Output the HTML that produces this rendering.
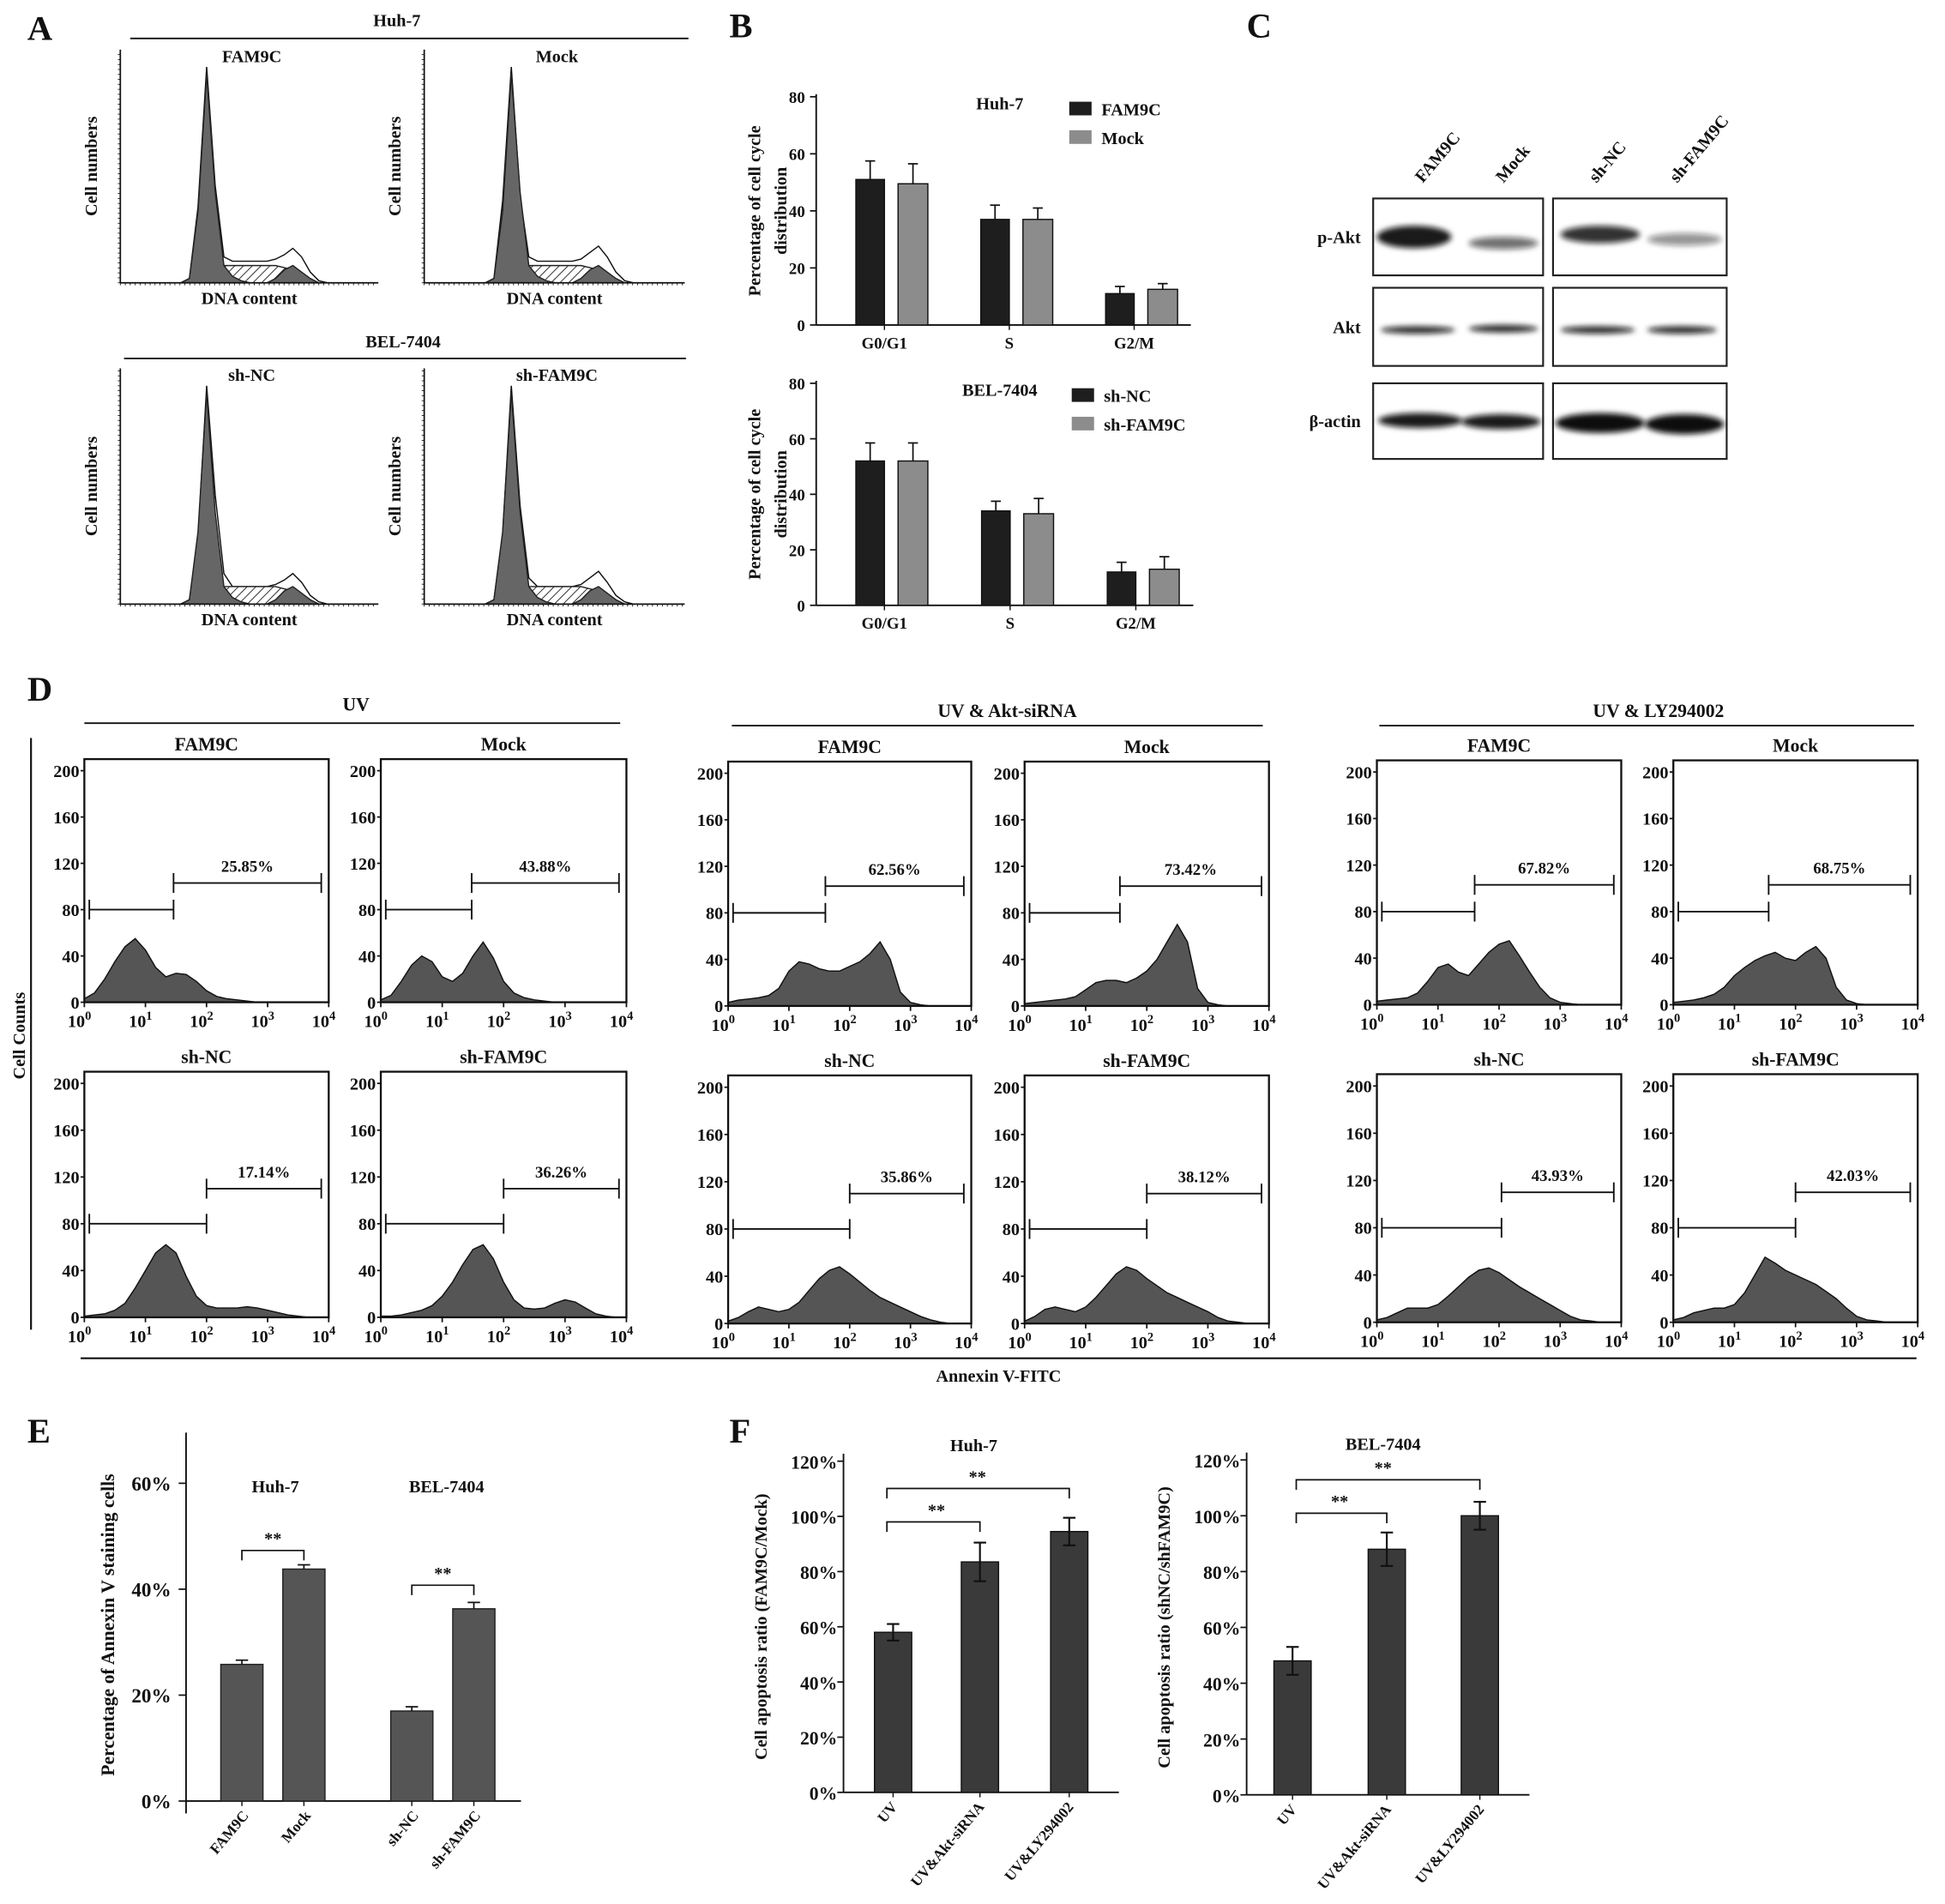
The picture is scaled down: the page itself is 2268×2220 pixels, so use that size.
<!DOCTYPE html>
<html><head><meta charset="utf-8"><style>
html,body{margin:0;padding:0;background:#fff}
svg{display:block}
text{font-family:"Liberation Serif",serif;font-weight:bold;fill:#111}
</style></head><body>
<svg id="fig" xmlns="http://www.w3.org/2000/svg" width="2268" height="2220" viewBox="0 0 1568 1535" preserveAspectRatio="none">
<defs>
<pattern id="hatch" width="5" height="5" patternUnits="userSpaceOnUse" patternTransform="rotate(45)"><rect width="5" height="5" fill="#fff"/><line x1="0" y1="0" x2="0" y2="5" stroke="#333" stroke-width="1.4"/></pattern>
<filter id="blur" x="-20%" y="-100%" width="140%" height="300%"><feGaussianBlur stdDeviation="2.2"/></filter>
</defs>
</svg>
<script>
// ---------- data ----------
// Panel A cell-cycle histograms (relative counts, 30 bins)
const aOutline1=[0,0,0,0,0,0,0,0,0.02,0.35,1.0,0.45,0.12,0.1,0.1,0.1,0.1,0.1,0.11,0.13,0.16,0.12,0.05,0.01,0,0,0,0,0,0];
const aOutline2=[0,0,0,0,0,0,0,0,0.02,0.38,1.0,0.4,0.12,0.1,0.1,0.1,0.1,0.1,0.11,0.14,0.17,0.12,0.05,0.01,0,0,0,0,0,0];
const aOutline3=[0,0,0,0,0,0,0,0,0.02,0.3,1.0,0.5,0.14,0.08,0.08,0.08,0.08,0.08,0.09,0.11,0.14,0.1,0.04,0.01,0,0,0,0,0,0];
const aOutline4=[0,0,0,0,0,0,0,0,0.02,0.32,1.0,0.45,0.12,0.08,0.08,0.08,0.08,0.08,0.09,0.12,0.15,0.1,0.04,0.01,0,0,0,0,0,0];
const aG1=[0,0,0,0,0,0,0,0,0.02,0.33,0.97,0.42,0.08,0.03,0.01,0,0,0,0,0,0,0,0,0,0,0,0,0,0,0];
const aG2=[0,0,0,0,0,0,0,0,0,0,0,0,0,0,0,0,0,0,0.02,0.06,0.08,0.05,0.02,0,0,0,0,0,0,0];
const aS=[0,0,0,0,0,0,0,0,0,0,0.07,0.08,0.08,0.08,0.08,0.08,0.08,0.08,0.08,0.07,0.06,0.03,0.01,0,0,0,0,0,0,0];
// Panel B
const bCats=['G0/G1','S','G2/M'];
const bHuhFam=[51,37,11], bHuhFamErr=[6.5,5,2.5];
const bHuhMock=[49.5,37,12.5], bHuhMockErr=[7,4,2];
const bBelNC=[52,34,12], bBelNCErr=[6.5,3.5,3.5];
const bBelSh=[52,33,13], bBelShErr=[6.5,5.5,4.5];
const bTicks=[0,20,40,60,80];
// Panel D flow histograms (counts at log10 = i/6)
const d1=[3,8,20,35,48,55,45,30,22,25,24,18,10,5,3,2,1,0,0,0,0,0,0,0,0];
const d2=[2,6,18,32,40,35,22,18,25,40,52,38,18,8,4,2,1,0,0,0,0,0,0,0,0];
const d3=[3,5,6,7,9,15,30,38,36,32,30,30,34,38,45,55,40,12,3,1,0,0,0,0,0];
const d4=[2,3,4,5,6,8,14,20,22,22,20,24,30,40,55,70,55,15,3,1,0,0,0,0,0];
const d5=[3,4,5,6,10,20,32,35,28,25,35,45,52,55,42,28,15,6,2,1,0,0,0,0,0];
const d6=[2,3,4,6,9,15,25,32,38,42,45,40,38,45,50,40,15,4,1,0,0,0,0,0,0];
const d7=[1,2,3,6,12,25,40,55,62,55,35,18,10,8,8,8,9,8,6,4,2,1,0,0,0];
const d8=[1,1,2,4,6,10,18,30,45,58,62,50,30,15,8,7,8,12,15,13,8,3,1,0,0];
const d9=[2,5,10,14,12,10,12,18,28,38,45,48,42,35,28,22,18,14,10,6,3,1,0,0,0];
const d10=[2,6,12,14,12,10,14,22,32,42,48,45,38,32,26,22,18,14,10,5,2,1,0,0,0];
const d11=[2,4,8,12,12,12,15,22,30,38,44,46,42,36,30,25,20,15,10,5,2,1,0,0,0];
const d12=[2,4,8,10,12,12,15,25,40,55,50,44,40,36,32,26,20,12,5,2,1,0,0,0,0];
const dPct=['25.85%','43.88%','62.56%','73.42%','67.82%','68.75%','17.14%','36.26%','35.86%','38.12%','43.93%','42.03%'];
const dGate=[1.46,1.48,1.6,1.56,1.6,1.56,2,2,2,2,2.04,2];
const dYTicks=[0,40,80,120,160,200];
// Panel E
const eCats=['FAM9C','Mock','sh-NC','sh-FAM9C'];
const eVals=[25.8,43.8,17,36.3], eErr=[0.8,0.8,0.8,1.2];
const eTicks=[0,20,40,60];
// Panel F
const fCats=['UV','UV&Akt-siRNA','UV&LY294002'];
const fHuh=[58,83.5,94.5], fHuhErr=[3,7,5];
const fBel=[48,88,100], fBelErr=[5,6,5];
const fTicks=[0,20,40,60,80,100,120];

// ---------- helpers ----------
const NS='http://www.w3.org/2000/svg';
const svg=document.getElementById('fig');
function mk(tag,attrs,parent){const e=document.createElementNS(NS,tag);for(const k in attrs)e.setAttribute(k,attrs[k]);(parent||svg).appendChild(e);return e;}
function txt(x,y,s,size,opts,parent){const t=mk('text',Object.assign({x:x,y:y,'font-size':size,'text-anchor':'middle'},opts||{}),parent);t.textContent=s;return t;}
function line(x1,y1,x2,y2,w,parent){return mk('line',{x1:x1,y1:y1,x2:x2,y2:y2,stroke:'#111','stroke-width':w||1.2},parent);}
let t,l,g,p,r;

// ---------- panel letters ----------
[['A',22,32],['B',588,30],['C',1005,30],['D',22,565],['E',22,1163],['F',588,1163]].forEach(function(a){
  t=txt(a[1],a[2],a[0],28,{'text-anchor':'start'});
  
  
});

// ---------- Panel A ----------
function cycleHist(x0,y0,x1,y1,outline,title,name){
  g=mk('g',{});
  
  
  const H=y1-y0-14, W=(x1-x0)*0.97;
  const X=function(i){return x0+i/29*W;}, Y=function(v){return y1-v*H;};
  function poly(arr,fill,stroke){let d='M'+X(0)+','+y1;arr.forEach(function(v,i){d+=' L'+X(i).toFixed(1)+','+Y(v).toFixed(1);});d+=' L'+X(29)+','+y1+' Z';return mk('path',{d:d,fill:fill,stroke:stroke,'stroke-width':1},g);}
  p=poly(outline,'#fff','#111');
  
  p=poly(aS,'url(#hatch)','#222');
  
  p=poly(aG1,'#666','#222');
  
  p=poly(aG2,'#666','#222');
  
  line(x0,y0,x0,y1,1.2,g);line(x0,y1,x1,y1,1.2,g);
  for(let yy=y1;yy>y0;yy-=4){line(x0-2,yy,x0,yy,0.6,g);}
  for(let xx=x0;xx<x1;xx+=4){line(xx,y1,xx,y1+2,0.6,g);}
  t=txt((x0+x1)/2+2,y0+10,title,14,{},g);
  
  t=txt((x0+x1)/2,y1+17,'DNA content',14,{},g);
  
  t=txt(0,0,'Cell numbers',14,{transform:'translate('+(x0-19)+','+((y0+y1)/2)+') rotate(-90)'},g);
  
}
t=txt(320,21,'Huh-7',14);

l=line(105,31,555,31,1.3);

t=txt(325,280,'BEL-7404',14);

l=line(100,289,553,289,1.3);

cycleHist(97,40,305,228,aOutline1,'FAM9C','huh7-fam9c-histogram');
cycleHist(342,40,552,228,aOutline2,'Mock','huh7-mock-histogram');
cycleHist(97,297,305,487,aOutline3,'sh-NC','bel-shnc-histogram');
cycleHist(342,297,552,487,aOutline4,'sh-FAM9C','bel-shfam9c-histogram');

// ---------- Panel B ----------
function cycleBars(x0,x1,yT,yB,s1,e1,s2,e2,title,names,name){
  g=mk('g',{});
  
  
  const Y=function(v){return yB-(v/80)*(yB-yT);};
  line(x0,yT-2,x0,yB,1.3,g);line(x0,yB,x1,yB,1.3,g);
  bTicks.forEach(function(v){line(x0-5,Y(v),x0,Y(v),1.2,g);t=txt(x0-9,Y(v)+5,String(v),13,{'text-anchor':'end'},g);});
  const step=(x1-x0)/3;
  bCats.forEach(function(c,i){
    const cc=x0+55+i*step;
    r=mk('rect',{x:cc-23,y:Y(s1[i]),width:23,height:yB-Y(s1[i]),fill:'#1e1e1e',stroke:'#111'},g);
    
    r=mk('rect',{x:cc+11,y:Y(s2[i]),width:24,height:yB-Y(s2[i]),fill:'#8c8c8c',stroke:'#111'},g);
    
    [[cc-11.5,s1[i],e1[i]],[cc+23,s2[i],e2[i]]].forEach(function(q){line(q[0],Y(q[1]),q[0],Y(q[1]+q[2]),1.2,g);line(q[0]-4,Y(q[1]+q[2]),q[0]+4,Y(q[1]+q[2]),1.2,g);});
    line(cc,yB,cc,yB+4,1,g);
    t=txt(cc,yB+19,c,13,{},g);
    
  });
  t=txt(x0+148,yT+10,title,14,{},g);
  
  r=mk('rect',{x:x1-98,y:yT+4,width:18,height:11,fill:'#1e1e1e'},g);
  
  t=txt(x1-72,yT+15,names[0],14,{'text-anchor':'start'},g);
  
  r=mk('rect',{x:x1-98,y:yT+27,width:18,height:11,fill:'#8c8c8c'},g);
  
  t=txt(x1-72,yT+38,names[1],14,{'text-anchor':'start'},g);
  
  t=txt(0,0,'Percentage of cell cycle',14,{transform:'translate('+(x0-45)+','+((yT+yB)/2)+') rotate(-90)'},g);
  
  t=txt(0,0,'distribution',14,{transform:'translate('+(x0-24)+','+((yT+yB)/2)+') rotate(-90)'},g);
  
}
cycleBars(658,960,78,262,bHuhFam,bHuhFamErr,bHuhMock,bHuhMockErr,'Huh-7',['FAM9C','Mock'],'huh7-cell-cycle-chart');
cycleBars(658,962,309,488,bBelNC,bBelNCErr,bBelSh,bBelShErr,'BEL-7404',['sh-NC','sh-FAM9C'],'bel7404-cell-cycle-chart');

// ---------- Panel C ----------
g=mk('g',{});


[['FAM9C',1165],['Mock',1230],['sh-NC',1305],['sh-FAM9C',1370]].forEach(function(a){
  t=txt(0,0,a[0],14,{'text-anchor':'start',transform:'translate('+(a[1]-18)+',148) rotate(-50)'},g);
  
});
const rows=[['p-Akt',160,222],['Akt',232,295],['β-actin',309,370]];
rows.forEach(function(rw){
  t=txt(1097,(rw[1]+rw[2])/2+5,rw[0],14,{'text-anchor':'end'},g);
  
  [[1107,1244],[1252,1392]].forEach(function(b){
    r=mk('rect',{x:b[0],y:rw[1],width:b[1]-b[0],height:rw[2]-rw[1],fill:'#fff',stroke:'#222','stroke-width':1.5},g);
    
  });
});
function band(cx,cy,rx,ry,op){p=mk('ellipse',{cx:cx,cy:cy,rx:rx,ry:ry,fill:'#111','fill-opacity':op,filter:'url(#blur)'},g);}
band(1140,191,30,9,0.95);band(1212,196,28,5,0.6);band(1290,189,32,7,0.85);band(1358,193,30,5,0.45);
band(1143,266,30,3,0.9);band(1212,265,28,3,0.9);band(1288,266,30,3,0.9);band(1356,266,28,3,0.9);
band(1145,339,34,6,0.95);band(1210,340,32,6,0.95);band(1290,341,36,8,1);band(1358,342,32,8,1);

// ---------- Panel D ----------
function flow(bx0,bx1,yTop,yBase,data,pct,gate,gateY,title,name){
  g=mk('g',{});
  
  
  const ky=(yBase-yTop)/210;
  const Y=function(v){return yBase-v*ky;}, X=function(lg){return bx0+lg/4*(bx1-bx0);};
  let d='M'+X(0)+','+yBase;
  data.forEach(function(v,i){d+=' L'+X(i/6).toFixed(1)+','+Y(v).toFixed(1);});
  d+=' L'+X(4)+','+yBase+' Z';
  p=mk('path',{d:d,fill:'#555',stroke:'#111','stroke-width':1},g);
  
  r=mk('rect',{x:bx0,y:yTop,width:bx1-bx0,height:yBase-yTop,fill:'none',stroke:'#111','stroke-width':1.6},g);
  
  dYTicks.forEach(function(v){line(bx0-3,Y(v),bx0,Y(v),1.2,g);t=txt(bx0-4,Y(v)+5,String(v),14,{'text-anchor':'end'},g);});
  [0,1,2,3,4].forEach(function(e){
    line(X(e),yBase,X(e),yBase+4,1.2,g);
    t=mk('text',{x:X(e)-4,y:yBase+20,'font-size':14,'text-anchor':'middle'},g);
    
    t.textContent='10';
    const s=mk('tspan',{dy:-6,'font-size':10},t);s.textContent=String(e);
  });
  const gx=X(gate), lx=bx0+4, rx=bx1-6, ly=Y(80), ry=Y(gateY);
  line(lx,ly,gx,ly,1.3,g);line(lx,ly-8,lx,ly+8,1.3,g);line(gx,ly-8,gx,ly+8,1.3,g);
  line(gx,ry,rx,ry,1.3,g);line(gx,ry-8,gx,ry+8,1.3,g);line(rx,ry-8,rx,ry+8,1.3,g);
  t=txt((gx+rx)/2,ry-9,pct,13,{},g);
  
  t=txt((bx0+bx1)/2,yTop-7,title,15,{},g);
  
}
const groups=[[68,265,307,505,612,808,864,1062],[587,783,826,1023,614,811,867,1067],[1110,1307,1349,1546,613,810,866,1066]];
const dAll=[d1,d2,d3,d4,d5,d6,d7,d8,d9,d10,d11,d12];
groups.forEach(function(gr,k){
  flow(gr[0],gr[1],gr[4],gr[5],dAll[2*k],dPct[2*k],dGate[2*k],103,'FAM9C','flow-fam9c-'+k);
  flow(gr[2],gr[3],gr[4],gr[5],dAll[2*k+1],dPct[2*k+1],dGate[2*k+1],103,'Mock','flow-mock-'+k);
  flow(gr[0],gr[1],gr[6],gr[7],dAll[6+2*k],dPct[6+2*k],dGate[6+2*k],110,'sh-NC','flow-shnc-'+k);
  flow(gr[2],gr[3],gr[6],gr[7],dAll[7+2*k],dPct[7+2*k],dGate[7+2*k],110,'sh-FAM9C','flow-shfam9c-'+k);
});
[['UV',287,573,68,500,583],['UV  & Akt-siRNA',812,578,590,1018,585],['UV  & LY294002',1337,578,1112,1543,585]].forEach(function(a){
  t=txt(a[1],a[2],a[0],15,{'xml:space':'preserve'});
  
  l=line(a[3],a[5],a[4],a[5],1.3);
  
});
l=line(25,595,25,1072,1.5);

t=txt(0,0,'Cell Counts',14,{transform:'translate(20,835) rotate(-90)'});

l=line(65,1095,1545,1095,1.5);

t=txt(805,1114,'Annexin V-FITC',14);


// ---------- Panel E ----------
g=mk('g',{});


(function(){
  const x0=150,yB=1452,k=4.27;const Y=function(v){return yB-v*k;};
  line(x0,1155,x0,1462,1.3,g);line(x0,yB,420,yB,1.3,g);
  eTicks.forEach(function(v){line(x0-6,Y(v),x0,Y(v),1.2,g);t=txt(x0-12,Y(v)+6,v+'%',16,{'text-anchor':'end'},g);});
  const cx=[195,245,332,382];
  eCats.forEach(function(c,i){
    r=mk('rect',{x:cx[i]-17,y:Y(eVals[i]),width:34,height:yB-Y(eVals[i]),fill:'#555',stroke:'#222'},g);
    
    line(cx[i],Y(eVals[i]),cx[i],Y(eVals[i]+eErr[i]),1.2,g);line(cx[i]-5,Y(eVals[i]+eErr[i]),cx[i]+5,Y(eVals[i]+eErr[i]),1.2,g);
    line(cx[i],yB,cx[i],yB+4,1,g);
    t=txt(0,0,c,12,{'text-anchor':'end',transform:'translate('+(cx[i]+6)+','+(yB+12)+') rotate(-50)'},g);
    
  });
  t=txt(222,1203,'Huh-7',14,{},g);
  t=txt(360,1203,'BEL-7404',14,{},g);
  [[195,245,1250],[332,382,1278]].forEach(function(b){
    p=mk('path',{d:'M'+b[0]+','+(b[2]+8)+' V'+b[2]+' H'+b[1]+' V'+(b[2]+8),fill:'none',stroke:'#111','stroke-width':1.2},g);
    
    t=txt((b[0]+b[1])/2,b[2]-5,'**',14,{},g);
  });
  t=txt(0,0,'Percentage of Annexin V staining cells',15,{transform:'translate(92,1310) rotate(-90)'},g);
  
})();

// ---------- Panel F ----------
function ratioChart(x0,yT,yB,cx,vals,errs,title,titleX,ylabel,brackets,name){
  g=mk('g',{});
  
  
  const k=(yB-yT)/120;const Y=function(v){return yB-v*k;};
  line(x0,yT-6,x0,yB,1.3,g);line(x0,yB,cx[2]+40,yB,1.3,g);
  fTicks.forEach(function(v){line(x0-5,Y(v),x0,Y(v),1.2,g);t=txt(x0-5,Y(v)+6,v+'%',15,{'text-anchor':'end'},g);});
  fCats.forEach(function(c,i){
    r=mk('rect',{x:cx[i]-15,y:Y(vals[i]),width:30,height:yB-Y(vals[i]),fill:'#3a3a3a',stroke:'#111'},g);
    
    const hi=Y(vals[i]+errs[i]),lo=Y(vals[i]-errs[i]);
    line(cx[i],hi,cx[i],lo,1.5,g);line(cx[i]-5,hi,cx[i]+5,hi,1.5,g);line(cx[i]-5,lo,cx[i]+5,lo,1.5,g);
    line(cx[i],yB,cx[i],yB+4,1,g);
    t=txt(0,0,c,12,{'text-anchor':'end',transform:'translate('+(cx[i]+4)+','+(yB+12)+') rotate(-50)'},g);
    
  });
  t=txt(titleX,yT-8,title,14,{},g);
  brackets.forEach(function(b){
    p=mk('path',{d:'M'+b[0]+','+(b[2]+8)+' V'+b[2]+' H'+b[1]+' V'+(b[2]+8),fill:'none',stroke:'#111','stroke-width':1.2},g);
    
    t=txt(b[3],b[2]-5,'**',14,{},g);
  });
  t=txt(0,0,ylabel,14,{transform:'translate('+(x0-62)+','+((yT+yB)/2)+') rotate(-90)'},g);
  
}
ratioChart(680,1178,1445,[720,790,862],fHuh,fHuhErr,'Huh-7',785,'Cell apoptosis  ratio (FAM9C/Mock)',[[715,790,1227,755],[715,862,1200,788]],'huh7-apoptosis-ratio-chart');
ratioChart(1005,1177,1447,[1042,1118,1193],fBel,fBelErr,'BEL-7404',1115,'Cell apoptosis  ratio (shNC/shFAM9C)',[[1045,1118,1220,1080],[1045,1193,1193,1115]],'bel7404-apoptosis-ratio-chart');
</script>
</body></html>
